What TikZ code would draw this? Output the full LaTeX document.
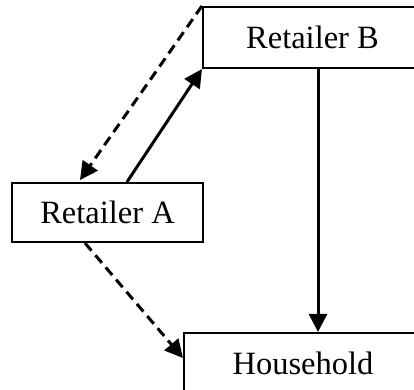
\documentclass[tikz,border=0pt]{standalone}
\usepackage{fontspec}
\setmainfont{Liberation Serif}
\usetikzlibrary{arrows.meta}
\begin{document}
\begin{tikzpicture}[x=1pt,y=-1pt,
  box/.style={draw,line width=2.1pt,rectangle,inner sep=0pt,
    font=\fontsize{32.5}{38}\selectfont},
  flow/.style={line width=3pt,-{Triangle[length=18pt,width=18pt]}},
  dflow/.style={flow,dash pattern=on 10pt off 6pt}]
\useasboundingbox (0,0) rectangle (414,389);
\clip (0,0) rectangle (414,389);
% the three parties
\node[box,minimum width=219pt,minimum height=61pt] (B) at (312.5,37.5) {Retailer B};
\node[box,minimum width=191pt,minimum height=59pt] (A) at (107.5,212.5) {Retailer A};
\node[box,minimum width=238pt,minimum height=60pt] (H) at (303,363) {Household};
% free end of the dashed link back to Retailer A
\coordinate (tipA) at (80,180);
% links
\draw[flow] ([xshift=19.5pt]A.north) -- (B.south west);
\draw[dflow] (B.north west) -- (tipA);
\draw[dflow] ([xshift=-22.5pt]A.south) -- ([yshift=5pt]H.west);
\draw[flow] ([xshift=5.5pt]B.south) -- ([xshift=5.5pt]B.south |- H.north);
\end{tikzpicture}
\end{document}
